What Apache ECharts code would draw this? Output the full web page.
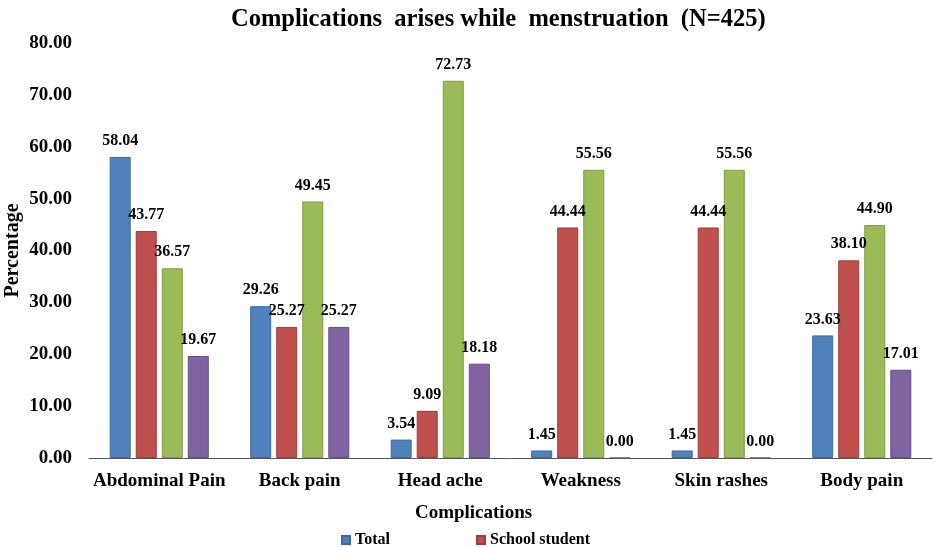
<!DOCTYPE html>
<html><head><meta charset="utf-8">
<script src="https://cdn.jsdelivr.net/npm/echarts@6/dist/echarts.min.js"></script>
<style>html,body{margin:0;padding:0;background:#fff}#c{width:941px;height:547px}</style>
</head><body><div id="c"></div>
<script>
const categories = ['Abdominal Pain','Back pain','Head ache','Weakness','Skin rashes','Body pain'];
const total = [58.04, 29.26, 3.54, 1.45, 1.45, 23.63];
const schoolStudent = [43.77, 25.27, 9.09, 44.44, 44.44, 38.10];
const series3 = [36.57, 49.45, 72.73, 55.56, 55.56, 44.90];
const series4 = [19.67, 25.27, 18.18, 0.00, 0.00, 17.01];
const seriesNames = ['Total','School student','College student','Others'];
const colors = ['#4F81BD','#C0504D','#9BBB59','#8064A2'];
const borders = ['#3A6A9F','#9E3B38','#7E9C44','#664E86'];
const font = '"Liberation Serif","Times New Roman",serif';
const chart = echarts.init(document.getElementById('c'));
const mk = (name, data, i) => ({
  name, type:'bar', data, barWidth:21, barGap:'24%',
  itemStyle:{color:colors[i], borderColor:borders[i], borderWidth:1},
  label:{show:true, position:'top', distance:8, formatter:p=>p.value.toFixed(2),
    fontFamily:font, fontWeight:'bold', fontSize:16, color:'#000'}
});
chart.setOption({
  animation:false,
  title:{text:'Complications  arises while  menstruation  (N=425)', left:226, top:2,
    textStyle:{fontFamily:font, fontWeight:'bold', fontSize:24.5, color:'#000'}},
  legend:{data:['Total','School student'], left:336, top:527, itemWidth:8, itemHeight:8, itemGap:86,
    icon:'rect', textStyle:{fontFamily:font, fontWeight:'bold', fontSize:16, color:'#000'}},
  grid:{left:89, right:9, top:43, bottom:89, containLabel:false, outerBoundsMode:'none'},
  xAxis:{type:'category', data:categories, name:'Complications', nameLocation:'middle', nameGap:46,
    nameMoveOverlap:false,
    nameTextStyle:{fontFamily:font, fontWeight:'bold', fontSize:19, color:'#000', padding:[0,74,0,0]},
    axisLine:{lineStyle:{color:'#555', width:1}}, axisTick:{show:false},
    axisLabel:{interval:0, fontFamily:font, fontWeight:'bold', fontSize:19, color:'#000', margin:14}},
  yAxis:{type:'value', min:0, max:80, interval:10, name:'Percentage', nameLocation:'middle', nameGap:66,
    nameMoveOverlap:false,
    nameTextStyle:{fontFamily:font, fontWeight:'bold', fontSize:20, color:'#000'},
    axisLine:{show:false}, axisTick:{show:false}, splitLine:{show:false},
    axisLabel:{fontFamily:font, fontWeight:'bold', fontSize:19, color:'#000', margin:17, formatter:v=>v.toFixed(2)}},
  series:[mk(seriesNames[0], total, 0), mk(seriesNames[1], schoolStudent, 1), mk(seriesNames[2], series3, 2), mk(seriesNames[3], series4, 3)]
});
</script></body></html>
